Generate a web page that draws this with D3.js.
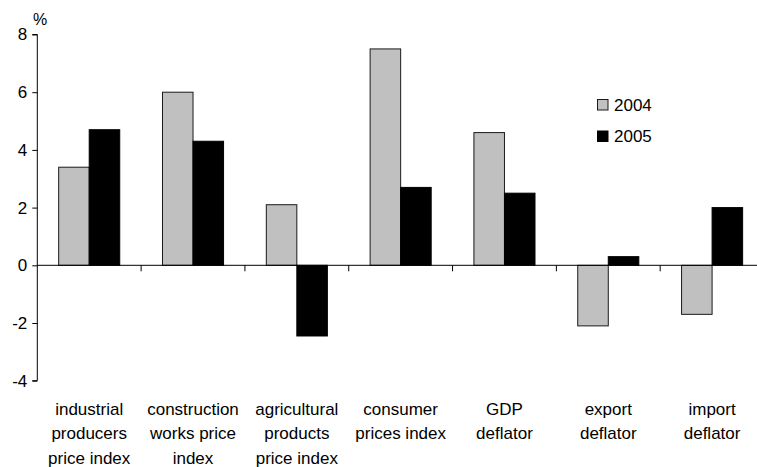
<!DOCTYPE html>
<html>
<head>
<meta charset="utf-8">
<script src="https://cdn.jsdelivr.net/npm/d3@7"></script>
<style>
  html, body { margin: 0; padding: 0; background: #fff; }
  svg { display: block; font-family: "Liberation Sans", Arial, sans-serif; }
</style>
</head>
<body>
<svg id="chart" width="757" height="467"></svg>
<script>
// Price indices, annual change in %
const categories = [
  ["industrial", "producers", "price index"],
  ["construction", "works price", "index"],
  ["agricultural", "products", "price index"],
  ["consumer", "prices index"],
  ["GDP", "deflator"],
  ["export", "deflator"],
  ["import", "deflator"]
];
const years = ["2004", "2005"];
const values2004 = [3.4, 6.0, 2.1, 7.5, 4.6, -2.1, -1.7];
const values2005 = [4.7, 4.3, -2.45, 2.7, 2.5, 0.3, 2.0];
const yTicks = [-4, -2, 0, 2, 4, 6, 8];

const series = [values2004, values2005];
const fills = ["#c0c0c0", "#000000"];

const svg = d3.select("#chart");
const plotLeft = 37.3, plotRight = 764, plotTop = 34.5, plotBottom = 380.7;

const x = d3.scaleBand()
  .domain(d3.range(categories.length))
  .range([plotLeft, plotRight])
  .paddingInner(0)
  .paddingOuter(0);

const y = d3.scaleLinear().domain([-4, 8]).range([plotBottom, plotTop]);

// grouped bars: two bars per band, gap of 1.4 bar widths
const barW = x.bandwidth() / 3.4;
const x1 = d3.scaleBand().domain([0, 1]).range([0, 2 * barW]);

const bars = svg.append("g");
series.forEach((vals, si) => {
  bars.selectAll(null)
    .data(vals)
    .enter()
    .append("rect")
    .attr("x", (d, i) => x(i) + (x.bandwidth() - 2 * barW) / 2 + x1(si))
    .attr("y", d => y(Math.max(0, d)))
    .attr("width", x1.bandwidth())
    .attr("height", d => Math.abs(y(d) - y(0)))
    .attr("fill", fills[si])
    .attr("stroke", si === 0 ? "#1a1a1a" : "#000")
    .attr("stroke-width", 1);
});

// y axis (plain hyphen for negatives)
const yAxis = d3.axisLeft(y).tickValues(yTicks).tickSize(5).tickPadding(5)
  .tickFormat(d => String(d));
const gy = svg.append("g").attr("transform", `translate(${plotLeft},0)`).call(yAxis);
gy.select(".domain").attr("stroke", "#000").attr("d", `M-5,${plotTop}H0V${plotBottom}H-5`);
gy.selectAll(".tick line").attr("stroke", "#000");
gy.selectAll(".tick text")
  .attr("font-size", 17)
  .attr("fill", "#000")
  .attr("font-family", "Liberation Sans, Arial, sans-serif");

// zero line with category separators
const xAxis = d3.axisBottom(x).tickSize(0).tickFormat("");
const gx = svg.append("g").attr("transform", `translate(0,${y(0)})`).call(xAxis);
gx.select(".domain").attr("stroke", "#000").attr("d", `M${plotLeft},0H${plotRight}`);
gx.selectAll(".tick").remove();
gx.selectAll(".sep")
  .data(d3.range(1, categories.length))
  .enter()
  .append("line")
  .attr("class", "sep")
  .attr("x1", i => x(i)).attr("x2", i => x(i))
  .attr("y1", 0).attr("y2", 6)
  .attr("stroke", "#000");

// category labels
const lab = svg.append("g").attr("font-size", 17).attr("fill", "#000").attr("text-anchor", "middle");
categories.forEach((lines, i) => {
  const t = lab.append("text").attr("x", x(i) + x.bandwidth() / 2).attr("y", 415);
  lines.forEach((ln, k) => {
    t.append("tspan").attr("x", x(i) + x.bandwidth() / 2).attr("dy", k === 0 ? 0 : 24.3).text(ln);
  });
});

// unit label
svg.append("text").attr("x", 33).attr("y", 25).attr("font-size", 16).text("%");

// legend
const leg = svg.append("g").attr("font-size", 17);
years.forEach((yr, i) => {
  const g = leg.append("g").attr("transform", `translate(597.5,${99.5 + i * 31.5})`);
  g.append("rect").attr("width", 10.5).attr("height", 10.5)
    .attr("fill", fills[i]).attr("stroke", i === 0 ? "#1a1a1a" : "#000");
  g.append("text").attr("x", 16.5).attr("y", 11).text(yr);
});
</script>
</body>
</html>
